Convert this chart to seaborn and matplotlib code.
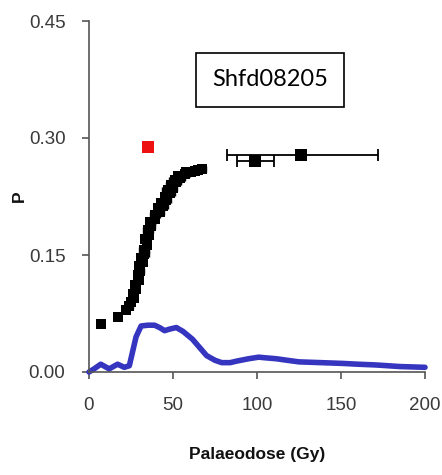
import numpy as np
import pandas as pd
import matplotlib
matplotlib.use("Agg")
import matplotlib.pyplot as plt
import seaborn as sns

# --- data ---
cloud_de = [7, 17, 22, 24, 25, 26.5, 26, 28, 27.5, 29.5, 29, 30.5, 30, 32, 31, 33, 32.5, 34.5,
            33.5, 35.5, 35, 37, 36.5, 39, 39.5, 42, 41, 44, 43, 46, 45, 48, 47, 50, 49, 52, 51,
            54, 53, 57, 58, 61, 63, 65, 67]
cloud_p = [0.062, 0.071, 0.079, 0.084, 0.090, 0.095, 0.100, 0.106, 0.112, 0.118, 0.124, 0.130,
           0.136, 0.141, 0.146, 0.151, 0.157, 0.163, 0.170, 0.176, 0.182, 0.187, 0.192, 0.196,
           0.201, 0.205, 0.210, 0.213, 0.217, 0.221, 0.225, 0.229, 0.233, 0.236, 0.240, 0.243,
           0.246, 0.249, 0.251, 0.254, 0.256, 0.257, 0.258, 0.259, 0.260]
cloud_err = [1.5, 1.5, 1.5, 2, 1.5, 2, 1.5, 2, 2.5, 1.5, 2, 2.5, 2, 1.5, 2, 2.5, 3, 2, 2.5,
             2, 3, 2, 2.5, 2, 3, 2.5, 2, 3, 2.5, 3, 2, 3, 3.5, 2.5, 3, 2.5, 3.5, 3, 2.5, 3,
             2.5, 3, 2.5, 2, 2.5]

outlier_de = [99, 126]
outlier_p = [0.270, 0.278]
outlier_lo = [11, 44]
outlier_hi = [11, 46]

red_de = [35]
red_p = [0.288]

kde_x = [0, 3, 7, 12, 17, 21, 24, 28, 31, 35, 39, 42, 45, 48, 52, 56, 61.6, 66, 70, 75, 79,
         84, 88, 95, 101, 106, 111.5, 118, 125, 138, 151, 160, 171, 185, 200]
kde_y = [0.000, 0.004, 0.010, 0.004, 0.010, 0.006, 0.008, 0.045, 0.059, 0.060, 0.060, 0.057,
         0.053, 0.055, 0.057, 0.052, 0.042, 0.031, 0.021, 0.015, 0.012, 0.012, 0.014, 0.017,
         0.019, 0.018, 0.017, 0.015, 0.013, 0.012, 0.011, 0.010, 0.009, 0.007, 0.006]

x_ticks = [0, 50, 100, 150, 200]
y_ticks = [0.00, 0.15, 0.30, 0.45]
y_tick_labels = ["0.00", "0.15", "0.30", "0.45"]

sns.set_style("ticks")
plt.rcParams["font.family"] = ["Liberation Sans", "DejaVu Sans"]

fig = plt.figure(figsize=(4.42, 4.75), dpi=100)
ax = fig.add_axes([89 / 442, 1 - 372 / 475, (425 - 89) / 442, (372 - 21) / 475])

kde_df = pd.DataFrame({"x": kde_x, "y": kde_y})
sns.lineplot(data=kde_df, x="x", y="y", ax=ax, color="#3535c0", linewidth=4.0,
             sort=False, clip_on=False, zorder=2)

ax.errorbar(cloud_de, cloud_p, xerr=cloud_err, fmt="none", ecolor="black",
            elinewidth=1.0, capsize=2.5, zorder=3)
cloud_df = pd.DataFrame({"de": cloud_de, "p": cloud_p})
sns.scatterplot(data=cloud_df, x="de", y="p", ax=ax, marker="s", s=62,
                color="black", edgecolor="black", linewidth=0, zorder=4)

ax.errorbar(outlier_de, outlier_p, xerr=[outlier_lo, outlier_hi], fmt="none",
            ecolor="black", elinewidth=1.3, capsize=4, capthick=1.3, zorder=3)
out_df = pd.DataFrame({"de": outlier_de, "p": outlier_p})
sns.scatterplot(data=out_df, x="de", y="p", ax=ax, marker="s", s=70,
                color="black", edgecolor="black", linewidth=0, zorder=4)

red_df = pd.DataFrame({"de": red_de, "p": red_p})
sns.scatterplot(data=red_df, x="de", y="p", ax=ax, marker="s", s=75,
                color="#ee1111", edgecolor="#ee1111", linewidth=0, zorder=4)

ax.set_xlim(0, 200)
ax.set_ylim(0, 0.45)
ax.set_xticks(x_ticks)
ax.set_yticks(y_ticks)
ax.set_yticklabels(y_tick_labels)
ax.tick_params(axis="both", labelsize=13.5, labelcolor="#3a3a3a", color="#555555",
               length=5, width=1.2, direction="out")
ax.tick_params(axis="x", pad=13)
ax.tick_params(axis="y", pad=12)
sns.despine(ax=ax)
for side in ["left", "bottom"]:
    ax.spines[side].set_color("#555555")
    ax.spines[side].set_linewidth(1.2)

ax.set_xlabel("Palaeodose (Gy)", fontsize=12.5, fontweight="bold", color="#111111",
              labelpad=24)
ax.set_ylabel("P", fontsize=12.5, fontweight="bold", color="#111111")
ax.yaxis.set_label_coords((27 - 89) / 336, 0.5)

fig.text(270 / 442, 1 - 80 / 475, "Shfd08205", fontsize=17, family=["Lato", "DejaVu Sans"],
         ha="center", va="center", color="black",
         bbox=dict(boxstyle="square,pad=0.7", facecolor="white", edgecolor="black",
                   linewidth=1.2))

fig.savefig("out.png", dpi=100)
